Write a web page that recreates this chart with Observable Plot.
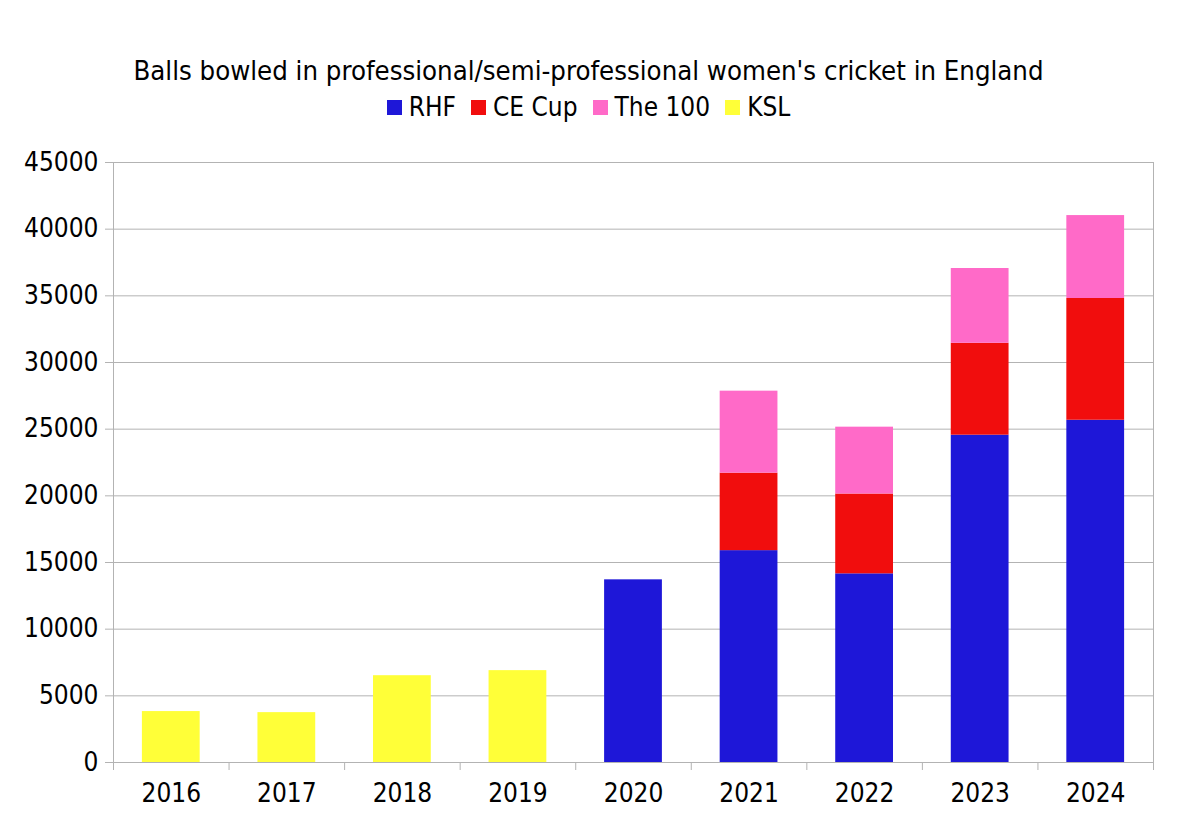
<!DOCTYPE html>
<html>
<head>
<meta charset="utf-8">
<script src="https://cdn.jsdelivr.net/npm/d3@7"></script>
<script src="https://cdn.jsdelivr.net/npm/@observablehq/plot@0.6"></script>
<style>
  html, body { margin: 0; padding: 0; background: #fff; overflow: hidden; }
  body { font-family: "DejaVu Sans Condensed", "DejaVu Sans", sans-serif; font-stretch: condensed; color: #000; }
  #header { position: relative; width: 1177px; height: 130px; }
  #title { position: absolute; left: 0; width: 1177px; top: 56px; line-height: 30px; font-size: 27.3px; text-align: center; }
  #legend { position: absolute; left: 0; width: 1177px; top: 92px; line-height: 30px; font-size: 26px; display: flex; justify-content: center; align-items: center; }
  .item { display: flex; align-items: center; margin: 0 7.5px; }
  .sw { width: 15px; height: 15px; margin-right: 7px; }
</style>
</head>
<body>
<div id="header">
  <div id="title">Balls bowled in professional/semi-professional women's cricket in England</div>
  <div id="legend"></div>
</div>
<div id="chart"></div>
<script>
const years = [2016, 2017, 2018, 2019, 2020, 2021, 2022, 2023, 2024];
const seriesNames = ["RHF", "CE Cup", "The 100", "KSL"];
const seriesColors = ["#1e17d8", "#f10d0d", "#ff6ac8", "#ffff38"];
const rhf    = [null, null, null, null, 13700, 15890, 14150, 24550, 25670];
const ceCup  = [null, null, null, null, null, 5810, 5985, 6890, 9130];
const the100 = [null, null, null, null, null, 6150, 5015, 5610, 6220];
const ksl    = [3820, 3740, 6510, 6890, null, null, null, null, null];
const yTicks = [0, 5000, 10000, 15000, 20000, 25000, 30000, 35000, 40000, 45000];

const seriesValues = [rhf, ceCup, the100, ksl];
const rows = [];
years.forEach((yr, i) => {
  seriesNames.forEach((s, j) => {
    const v = seriesValues[j][i];
    if (v != null) rows.push({year: yr, series: s, value: v});
  });
});

// legend
const legend = document.getElementById("legend");
seriesNames.forEach((s, j) => {
  const it = document.createElement("div");
  it.className = "item";
  const sw = document.createElement("div");
  sw.className = "sw";
  sw.style.background = seriesColors[j];
  const tx = document.createElement("span");
  tx.textContent = s;
  it.appendChild(sw); it.appendChild(tx);
  legend.appendChild(it);
});

const boundaries = d3.range(years.length + 1).map(i => years[0] - 0.5 + i);
const grey = "#b3b3b3";

const chart = Plot.plot({
  width: 1177,
  height: 697,
  marginTop: 32,
  marginBottom: 65,
  marginLeft: 113,
  marginRight: 24,
  style: {fontFamily: '"DejaVu Sans Condensed", "DejaVu Sans", sans-serif', fontSize: "26px", color: "black", background: "white", fontStretch: "condensed"},
  x: {type: "linear", domain: [years[0] - 0.5, years[years.length - 1] + 0.5], axis: null},
  y: {domain: [0, 45000], axis: null},
  color: {domain: seriesNames, range: seriesColors},
  marks: [
    Plot.gridY(yTicks, {stroke: grey, strokeOpacity: 1}),
    Plot.ruleX([boundaries[0], boundaries[boundaries.length - 1]], {stroke: grey, strokeOpacity: 1}),
    Plot.axisY(yTicks, {tickSize: 8, tickPadding: 7, stroke: grey, strokeOpacity: 1, fill: "black", fontSize: 26, label: null, tickFormat: d => String(d)}),
    Plot.axisX(boundaries, {tickSize: 8, stroke: grey, strokeOpacity: 1, label: null, tickFormat: () => ""}),
    Plot.axisX(years, {tickSize: 0, tickPadding: 21, fill: "black", fontSize: 26, label: null, tickFormat: d => String(d)}),
    Plot.rectY(rows, Plot.stackY({
      x1: d => d.year - 0.25,
      x2: d => d.year + 0.25,
      y: "value",
      fill: "series",
      order: seriesNames
    }))
  ]
});
document.getElementById("chart").appendChild(chart);
</script>
</body>
</html>
